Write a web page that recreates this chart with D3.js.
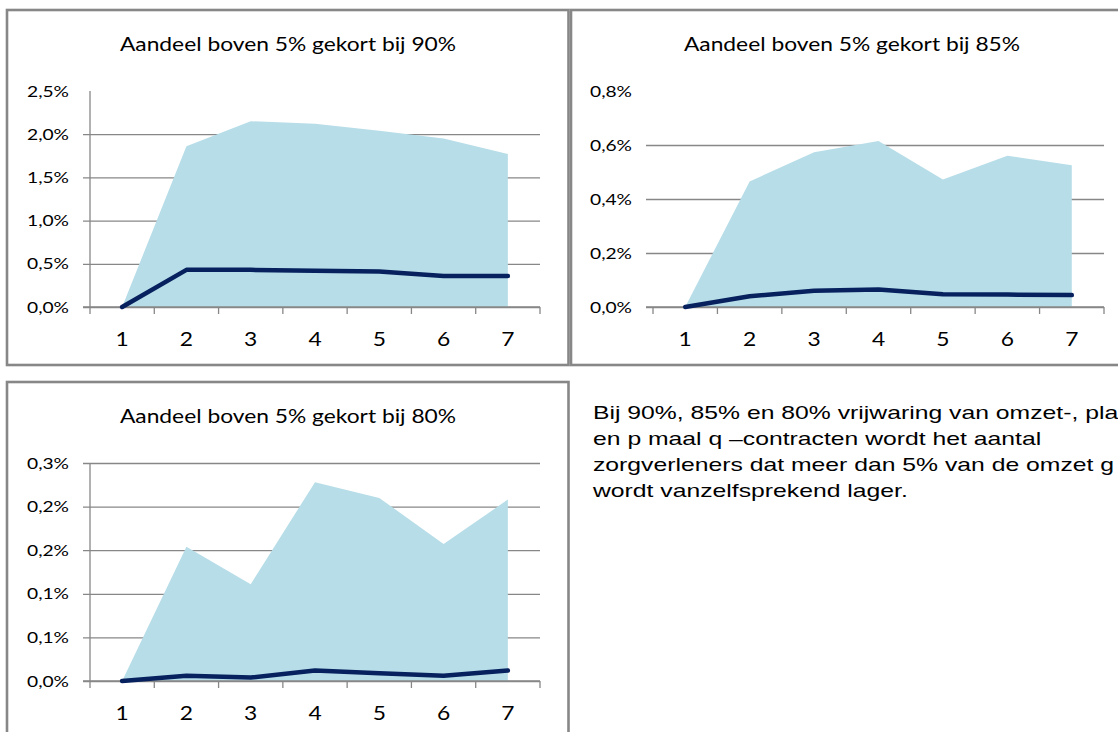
<!DOCTYPE html>
<html>
<head>
<meta charset="utf-8">
<script src="https://cdn.jsdelivr.net/npm/d3@7"></script>
<style>
  html, body { margin: 0; padding: 0; background: #fff; overflow: hidden; }
</style>
</head>
<body>
<div id="container"></div>
<script>
// jaren / categorieën op de x-as
const categories = [1, 2, 3, 4, 5, 6, 7];

// aandeel boven 5% gekort (in procent), vlak = bandbreedte, lijn = gemiddelde
const area90 = [0, 1.86, 2.15, 2.12, 2.04, 1.95, 1.77];
const line90 = [0, 0.43, 0.43, 0.42, 0.41, 0.36, 0.36];
const area85 = [0, 0.465, 0.573, 0.615, 0.472, 0.560, 0.525];
const line85 = [0, 0.040, 0.060, 0.065, 0.047, 0.046, 0.044];
const area80 = [0, 0.154, 0.111, 0.228, 0.210, 0.157, 0.208];
const line80 = [0, 0.006, 0.004, 0.012, 0.009, 0.006, 0.012];

// y-as ticks (in procent)
const ticks90 = [0, 0.5, 1.0, 1.5, 2.0, 2.5];
const ticks85 = [0, 0.2, 0.4, 0.6, 0.8];
const ticks80 = [0, 0.05, 0.10, 0.15, 0.20, 0.25];

const titles = [
    "Aandeel boven 5% gekort bij 90%",
    "Aandeel boven 5% gekort bij 85%",
    "Aandeel boven 5% gekort bij 80%"
];

// tekst zoals zichtbaar (loopt in het origineel van de pagina af)
const textLines = [
    "Bij 90%, 85% en 80% vrijwaring van omzet-, pla",
    "en p maal q \u2013contracten wordt het aantal",
    "zorgverleners dat meer dan 5% van de omzet g",
    "wordt vanzelfsprekend lager."
];

const width = 1118;
const height = 732;
const grey = "#878787";
const areaColor = "#b7dde8";
const lineColor = "#06215e";
const font = "Lato, 'Open Sans', sans-serif";
// de bron is horizontaal uitgerekt, dus de tekst ook een beetje
const sx = 1.2;

// layout per grafiek
const panels = [
    {title: titles[0], area: area90, line: line90, ticks: ticks90,
     frame: [7, 10, 561.5, 355], titleX: 288, x0: 90, x1: 540, yTop: 91, yBase: 307,
     topGrid: false, yAxis: true},
    {title: titles[1], area: area85, line: line85, ticks: ticks85,
     frame: [571, 10, 600, 355], titleX: 852, x0: 653, x1: 1104, yTop: 91, yBase: 307,
     topGrid: false, yAxis: false},
    {title: titles[2], area: area80, line: line80, ticks: ticks80,
     frame: [7, 382, 561.5, 400], titleX: 288, x0: 90, x1: 540, yTop: 463, yBase: 681,
     topGrid: true, yAxis: true}
];

// Excel rondt af op 1 decimaal (0,05 -> 0,1 ; 0,15 -> 0,2)
const fmt = v => (Math.round(v * 10 + 1e-9) / 10).toFixed(1).replace(".", ",") + "%";

const svg = d3.create("svg")
    .attr("width", width)
    .attr("height", height)
    .attr("viewBox", [0, 0, width, height]);

for (const p of panels) {
    const g = svg.append("g");

    g.append("rect")
        .attr("x", p.frame[0]).attr("y", p.frame[1])
        .attr("width", p.frame[2]).attr("height", p.frame[3])
        .attr("fill", "#fff")
        .attr("stroke", grey)
        .attr("stroke-width", 2.6);

    g.append("text")
        .attr("transform", `translate(${p.titleX},${p.frame[1] + 41}) scale(${sx},1)`)
        .attr("text-anchor", "middle")
        .attr("font-family", font)
        .attr("font-size", 19)
        .attr("fill", "#000")
        .text(p.title);

    const x = d3.scaleBand()
        .domain(categories)
        .range([p.x0, p.x1])
        .paddingInner(0)
        .paddingOuter(0);
    const cx = c => x(c) + x.bandwidth() / 2;

    const y = d3.scaleLinear()
        .domain([0, d3.max(p.ticks)])
        .range([p.yBase, p.yTop]);

    // rasterlijnen + labels
    const yAx = d3.axisLeft(y)
        .tickValues(p.ticks)
        .tickFormat(fmt)
        .tickSize(-(p.x1 - p.x0 + 7))
        .tickPadding(14);
    const ya = g.append("g")
        .attr("transform", `translate(${p.x0 - 7},0)`)
        .call(yAx);
    ya.select(".domain").remove();
    ya.selectAll(".tick line")
        .attr("stroke", grey)
        .attr("stroke-width", 1.3)
        .attr("display", d => (!p.topGrid && d === d3.max(p.ticks)) ? "none" : null);
    ya.selectAll(".tick text")
        .attr("x", -14 / sx)
        .attr("transform", `scale(${sx},1)`)
        .attr("font-family", font)
        .attr("font-size", 16)
        .attr("fill", "#000");

    // vlak
    const area = d3.area()
        .x((d, i) => cx(categories[i]))
        .y0(y(0))
        .y1(d => y(d));
    g.append("path")
        .datum(p.area)
        .attr("fill", areaColor)
        .attr("d", area);

    // y-as lijn
    if (p.yAxis) {
        g.append("line")
            .attr("x1", p.x0).attr("x2", p.x0)
            .attr("y1", p.yTop).attr("y2", p.yBase)
            .attr("stroke", grey)
            .attr("stroke-width", 1.3);
    }

    // x-as met tickjes tussen de categorieën
    g.append("line")
        .attr("x1", p.x0 - 7).attr("x2", p.x1)
        .attr("y1", p.yBase).attr("y2", p.yBase)
        .attr("stroke", grey)
        .attr("stroke-width", 1.3);
    const edges = categories.map(c => x(c)).concat([x(categories[categories.length - 1]) + x.bandwidth()]);
    g.append("g")
        .selectAll("line")
        .data(edges)
        .join("line")
        .attr("x1", d => d).attr("x2", d => d)
        .attr("y1", p.yBase).attr("y2", p.yBase + 7)
        .attr("stroke", grey)
        .attr("stroke-width", 1.3);

    const xAx = d3.axisBottom(x).tickSize(0).tickPadding(0);
    const xa = g.append("g")
        .attr("transform", `translate(0,${p.yBase})`)
        .call(xAx);
    xa.select(".domain").remove();
    xa.selectAll(".tick text")
        .attr("dy", null)
        .attr("y", 39)
        .attr("transform", `scale(${sx},1)`)
        .attr("font-family", font)
        .attr("font-size", 19)
        .attr("fill", "#000");

    // lijn
    const line = d3.line()
        .x((d, i) => cx(categories[i]))
        .y(d => y(d));
    g.append("path")
        .datum(p.line)
        .attr("fill", "none")
        .attr("stroke", lineColor)
        .attr("stroke-width", 4.5)
        .attr("stroke-linejoin", "round")
        .attr("stroke-linecap", "round")
        .attr("d", line);
}

// toelichtende tekst
svg.append("g")
    .selectAll("text")
    .data(textLines)
    .join("text")
    .attr("transform", (d, i) => `translate(593,${419 + i * 26}) scale(1.375,1)`)
    .attr("font-family", "'Liberation Sans', Arial, sans-serif")
    .attr("font-size", 18)
    .attr("fill", "#000")
    .text(d => d);

d3.select("#container").node().append(svg.node());
</script>
</body>
</html>
